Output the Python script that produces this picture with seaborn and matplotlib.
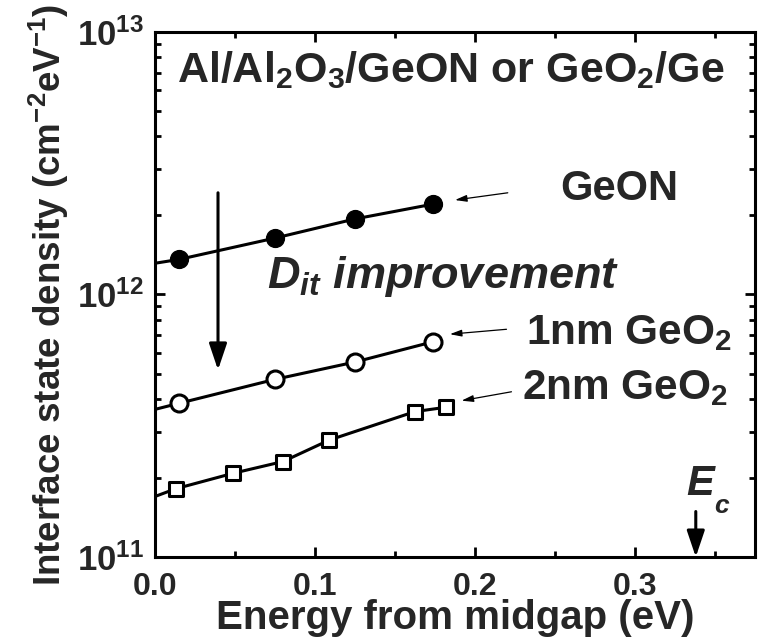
import matplotlib
matplotlib.use("Agg")
import matplotlib.pyplot as plt
import seaborn as sns
import numpy as np
import pandas as pd

# ---- data: interface state density vs. energy from midgap ----
geon_e = [0.015, 0.075, 0.125, 0.174]
geon_dit = [1.36e12, 1.64e12, 1.94e12, 2.21e12]

geo2_1nm_e = [0.015, 0.075, 0.125, 0.174]
geo2_1nm_dit = [3.85e11, 4.75e11, 5.53e11, 6.61e11]

geo2_2nm_e = [0.013, 0.049, 0.080, 0.109, 0.1625, 0.182]
geo2_2nm_dit = [1.82e11, 2.085e11, 2.31e11, 2.79e11, 3.58e11, 3.72e11]

# extrapolated value of each trend line at midgap (E = 0)
midgap_dit = {"GeON": 1.315e12, "1nm": 3.65e11, "2nm": 1.70e11}

ec_energy = 0.338
ytick_values = [1e11, 1e12, 1e13]
ytick_labels = [r"$\mathbf{10^{11}}$", r"$\mathbf{10^{12}}$", r"$\mathbf{10^{13}}$"]
xtick_values = [0.0, 0.1, 0.2, 0.3]
xtick_labels = ["0.0", "0.1", "0.2", "0.3"]

sns.set_theme(style="ticks")
plt.rcParams["font.family"] = ["Liberation Sans", "DejaVu Sans"]
plt.rcParams["font.weight"] = "bold"
plt.rcParams["mathtext.fontset"] = "custom"
plt.rcParams["mathtext.rm"] = "Liberation Sans:bold"
plt.rcParams["mathtext.bf"] = "Liberation Sans:bold"
plt.rcParams["mathtext.it"] = "Liberation Sans:italic:bold"
plt.rcParams["mathtext.default"] = "bf"

fig = plt.figure(figsize=(7.6, 6.42), dpi=100)
ax = fig.add_axes([0.2039, 0.1324, 0.7895, 0.8178])

LW = 2.2


def trend(name, e, d):
    df = pd.DataFrame({"E": [0.0] + list(e), "Dit": [midgap_dit[name]] + list(d)})
    sns.lineplot(data=df, x="E", y="Dit", ax=ax, color="black", lw=LW,
                 sort=False, estimator=None, zorder=2)


trend("GeON", geon_e, geon_dit)
trend("1nm", geo2_1nm_e, geo2_1nm_dit)
trend("2nm", geo2_2nm_e, geo2_2nm_dit)

sns.scatterplot(x=geon_e, y=geon_dit, ax=ax, marker="o", s=165,
                color="black", edgecolor="black", linewidth=1, zorder=3)
sns.scatterplot(x=geo2_1nm_e, y=geo2_1nm_dit, ax=ax, marker="o", s=150,
                facecolor="white", edgecolor="black", linewidth=2.2, zorder=3)
sns.scatterplot(x=geo2_2nm_e, y=geo2_2nm_dit, ax=ax, marker="s", s=115,
                facecolor="white", edgecolor="black", linewidth=2.2, zorder=3)

ax.set_yscale("log")
ax.set_xlim(0, 0.375)
ax.set_ylim(1e11, 1e13)

ax.set_xticks(xtick_values)
ax.set_xticklabels(xtick_labels, fontsize=23, fontweight="bold")
ax.set_xticks([0.05, 0.15, 0.25, 0.35], minor=True)
ax.set_yticks(ytick_values)
ax.set_yticklabels(ytick_labels, fontsize=25)
ax.yaxis.set_minor_locator(matplotlib.ticker.LogLocator(base=10, subs=np.arange(2, 10)))
ax.yaxis.set_minor_formatter(matplotlib.ticker.NullFormatter())

ax.tick_params(which="both", direction="in", top=True, right=True, width=2.0,
               color="black")
ax.tick_params(which="major", length=7)
ax.tick_params(which="minor", length=4)
ax.tick_params(axis="x", which="major", pad=11)
ax.tick_params(axis="y", which="major", pad=8)
for sp in ax.spines.values():
    sp.set_linewidth(2.2)
    sp.set_color("black")

ax.set_xlabel("Energy from midgap (eV)", fontsize=29, fontweight="bold", labelpad=-2)
ax.set_ylabel(r"Interface state density (cm$^{-2}$eV$^{-1}$)", fontsize=26.5,
              fontweight="bold", labelpad=4)

# stack description
ax.text(0.0139, 6.47e12, r"Al/Al$_2$O$_3$/GeON or GeO$_2$/Ge", fontsize=31,
        fontweight="bold", ha="left", va="baseline")

# series labels with pointer arrows
small_arrow = dict(arrowstyle="-|>,head_length=7,head_width=2", mutation_scale=1,
                   lw=0.9, color="black", shrinkA=0, shrinkB=0)
ax.annotate("", xy=(0.1875, 2.29e12), xytext=(0.2205, 2.44e12), arrowprops=small_arrow)
ax.annotate("", xy=(0.1843, 7.06e11), xytext=(0.2197, 7.37e11), arrowprops=small_arrow)
ax.annotate("", xy=(0.1916, 3.94e11), xytext=(0.2228, 4.26e11), arrowprops=small_arrow)

ax.text(0.253, 2.29e12, "GeON", fontsize=30, fontweight="bold", ha="left", va="baseline")
ax.text(0.2317, 6.46e11, r"1nm GeO$_2$", fontsize=30.5, fontweight="bold",
        ha="left", va="baseline")
ax.text(0.2291, 3.99e11, r"2nm GeO$_2$", fontsize=30.5, fontweight="bold",
        ha="left", va="baseline")

# improvement arrow
big_arrow = dict(arrowstyle="-|>,head_length=16,head_width=5.4", mutation_scale=1,
                 lw=2.2, color="black", shrinkA=0, shrinkB=0)
ax.annotate("", xy=(0.0394, 5.16e11), xytext=(0.0394, 2.44e12), arrowprops=big_arrow)
ax.text(0.07, 1.056e12, r"$\mathit{D}_{\mathit{it}}$ improvement", fontsize=32.5,
        fontweight="bold", fontstyle="italic", ha="left", va="baseline")

# conduction band edge marker
ax.annotate("", xy=(ec_energy, 1e11), xytext=(ec_energy, 1.49e11), arrowprops=big_arrow)
ax.text(0.3319, 1.72e11, "E", fontsize=30, fontweight="bold", fontstyle="italic",
        ha="left", va="baseline")
ax.text(0.3497, 1.475e11, "c", fontsize=19, fontweight="bold", fontstyle="italic",
        ha="left", va="baseline")

fig.savefig("out.png", dpi=100)
